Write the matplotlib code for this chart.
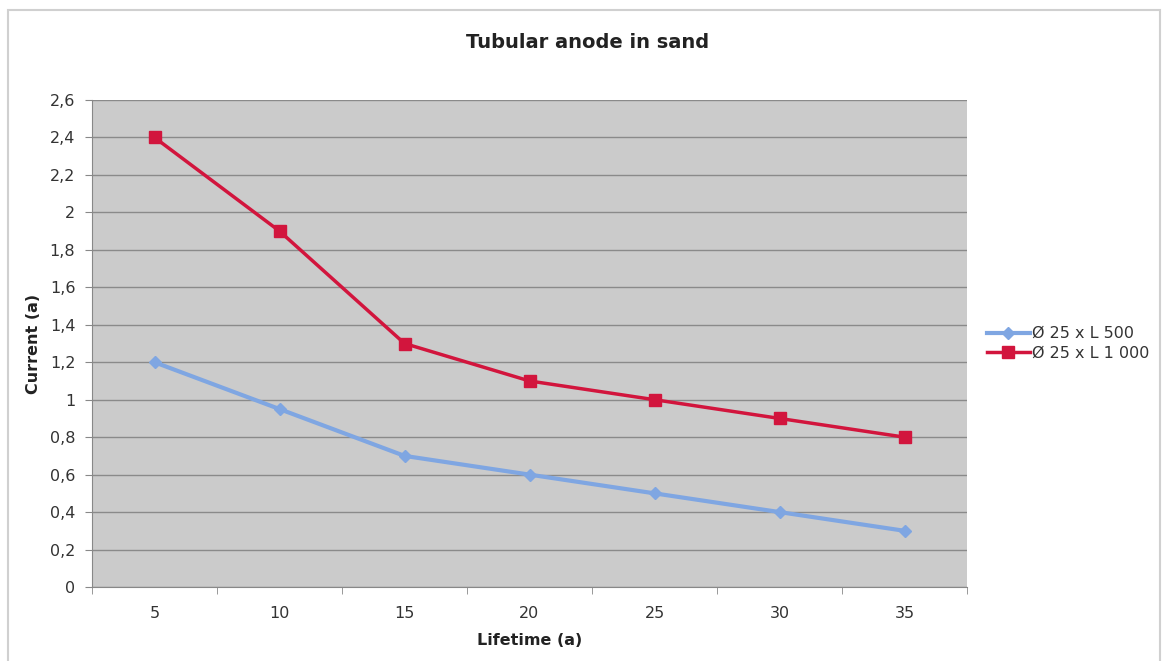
import matplotlib
matplotlib.use("Agg")
import matplotlib.pyplot as plt
from matplotlib.patches import Rectangle
import numpy as np

plt.rcParams["font.family"] = ["DejaVu Sans"]

lifetime = [5, 10, 15, 20, 25, 30, 35]
series_500 = [1.2, 0.95, 0.7, 0.6, 0.5, 0.4, 0.3]
series_1000 = [2.4, 1.9, 1.3, 1.1, 1.0, 0.9, 0.8]
labels = ["Ø 25 x L 500", "Ø 25 x L 1 000"]
yticks = [0, 0.2, 0.4, 0.6, 0.8, 1.0, 1.2, 1.4, 1.6, 1.8, 2.0, 2.2, 2.4, 2.6]

fig = plt.figure(figsize=(11.67, 6.61), dpi=100)
fig.patch.set_facecolor("white")
fig.add_artist(Rectangle((8/1167, -0.01), 1152/1167, 1 - 10/661 + 0.01,
                         transform=fig.transFigure, fill=False,
                         edgecolor="#d0d0d0", linewidth=1.5))

ax = fig.add_axes([92/1167, 1 - 587/661, 875/1167, 487/661])
ax.set_facecolor("#cbcbcb")
x = np.arange(len(lifetime))
ax.plot(x, series_500, color="#7fa6e2", lw=3, marker="D", ms=6,
        label=labels[0], zorder=3)
ax.plot(x, series_1000, color="#d2153d", lw=2.5, marker="s", ms=9,
        label=labels[1], zorder=3)

ax.set_xlim(-0.5, len(lifetime) - 0.5)
ax.set_ylim(0, 2.6)
ax.set_yticks(yticks)
ax.set_yticklabels([("%g" % v).replace(".", ",") for v in yticks])
ax.set_xticks(x)
ax.set_xticklabels([str(v) for v in lifetime])
ax.set_xticks(np.arange(-0.5, len(lifetime), 1.0), minor=True)
ax.tick_params(axis="x", which="major", length=0, pad=14)
ax.tick_params(axis="x", which="minor", length=5, color="#888888")
ax.tick_params(axis="y", length=5, color="#888888", pad=7)
ax.tick_params(labelsize=11.5, labelcolor="#333333")
ax.yaxis.grid(True, color="#8a8a8a", lw=1)
ax.set_axisbelow(True)
for s in ["top", "right"]:
    ax.spines[s].set_visible(False)
for s in ["left", "bottom"]:
    ax.spines[s].set_color("#888888")

ax.set_xlabel("Lifetime (a)", fontsize=11.5, fontweight="bold", labelpad=8,
              color="#222222")
ax.set_ylabel("Current (a)", fontsize=11.5, fontweight="bold", labelpad=6,
              color="#222222")
fig.text(0.5 * (92 + 1083) / 1167, 1 - 43 / 661, "Tubular anode in sand",
         ha="center", va="center", fontsize=14, fontweight="bold",
         color="#222222")

ax.legend(loc="center left", bbox_to_anchor=(1.015, 0.50), frameon=False,
          fontsize=11.5, handlelength=2.7, handletextpad=0.15, labelspacing=0.3,
          borderaxespad=0, labelcolor="#333333")

fig.savefig("out.png", dpi=100)
